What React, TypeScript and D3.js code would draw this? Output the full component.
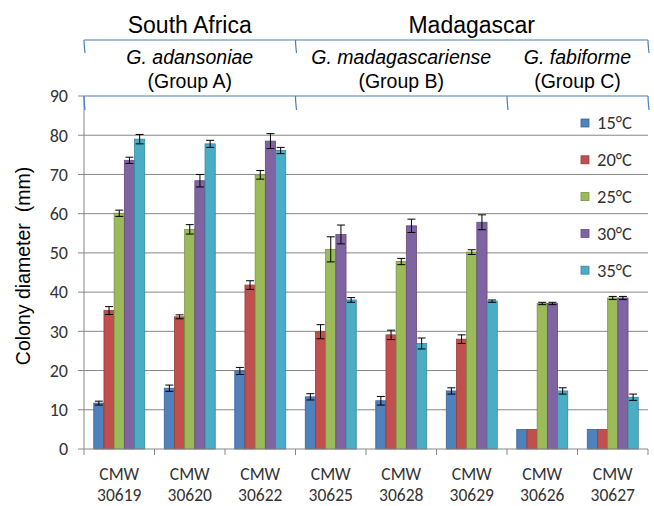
import React from "react";
import * as d3 from "d3";

const strains = ["30619", "30620", "30622", "30625", "30628", "30629", "30626", "30627"];
const series = ["15°C", "20°C", "25°C", "30°C", "35°C"];
const colors = ["#4f81bd", "#c0504d", "#9bbb59", "#8064a2", "#4bacc6"];
const strokeColors = ["#3a6497", "#983d3a", "#789344", "#624b7d", "#36879c"];

const v15 = [11.7, 15.5, 19.9, 13.3, 12.3, 14.8, 5, 5];
const v20 = [35.3, 33.7, 41.8, 29.9, 29.1, 28.0, 5, 5];
const v25 = [60.1, 56.0, 69.9, 50.9, 47.8, 50.2, 37.1, 38.5];
const v30 = [73.6, 68.4, 78.5, 54.7, 56.9, 57.8, 37.1, 38.5];
const v35 = [79.0, 77.8, 76.1, 38.0, 26.9, 37.7, 14.8, 13.2];

const e15 = [0.5, 0.8, 0.9, 0.8, 1.1, 0.8, 0, 0];
const e20 = [1.0, 0.5, 1.1, 1.8, 1.2, 1.1, 0, 0];
const e25 = [0.8, 1.2, 1.1, 3.2, 0.8, 0.6, 0.3, 0.4];
const e30 = [0.8, 1.6, 1.9, 2.4, 1.7, 1.9, 0.3, 0.4];
const e35 = [1.2, 0.9, 0.8, 0.6, 1.4, 0.3, 0.8, 0.8];

const yTicks = [0, 10, 20, 30, 40, 50, 60, 70, 80, 90];

const regions = [
  { label: "South Africa", from: 0, to: 3 },
  { label: "Madagascar", from: 3, to: 8 },
];
const groups = [
  { name: "G. adansoniae", sub: "(Group A)", from: 0, to: 3 },
  { name: "G. madagascariense", sub: "(Group B)", from: 3, to: 6 },
  { name: "G. fabiforme", sub: "(Group C)", from: 6, to: 8 },
];

const values = [v15, v20, v25, v30, v35];
const errors = [e15, e20, e25, e30, e35];

const W = 654;
const H = 506;
const left = 84;
const right = 648;
const top = 96;
const bottom = 449;

const tickFont = "Carlito, Calibri, Lato, 'Liberation Sans', sans-serif";
const headFont = "'Liberation Sans', Arial, sans-serif";

export default function App() {
  const y = d3.scaleLinear().domain([0, 90]).range([bottom, top]);
  const xEdge = d3.scaleLinear().domain([0, strains.length]).range([left, right]);
  const x0 = d3
    .scaleBand<string>()
    .domain(strains)
    .range([left, right])
    .paddingInner(0.277)
    .paddingOuter(0.1385);
  const x1 = d3.scaleBand<string>().domain(series).range([0, x0.bandwidth()]);
  const blue = "#4a7ebb";

  const brace = (xa: number, xb: number, yy: number, drop: number, hooks: number[]) => {
    let d = `M${xa},${yy}L${xb},${yy}`;
    hooks.forEach((hx) => {
      d += `M${hx},${yy}C${hx},${yy + drop * 0.4} ${hx + 0.5},${yy + drop * 0.6} ${hx + 1},${yy + drop}`;
    });
    return d;
  };

  return (
    <svg
      width={W}
      height={H}
      style={{ position: "absolute", left: 0, top: 0, background: "#fff" }}
    >
      {/* gridlines */}
      {yTicks.slice(1, -1).map((t) => (
        <line key={t} x1={left} x2={right} y1={y(t)} y2={y(t)} stroke="#868686" strokeWidth={1} />
      ))}
      {/* y axis */}
      <line x1={left} x2={left} y1={top} y2={bottom} stroke="#868686" />
      {yTicks.map((t) => (
        <g key={t}>
          <line x1={left - 6} x2={left} y1={y(t)} y2={y(t)} stroke="#868686" />
          <text
            x={68}
            y={y(t)}
            dy="0.35em"
            textAnchor="end"
            fontFamily={tickFont}
            fontSize={18}
            fill="#333"
          >
            {t}
          </text>
        </g>
      ))}
      <text
        transform={`translate(30,${266}) rotate(-90)`}
        textAnchor="middle"
        fontFamily={headFont}
        fontSize={19.5}
        fill="#000"
        style={{ whiteSpace: "pre" }}
      >
        {"Colony diameter  (mm)"}
      </text>
      {/* bars */}
      {strains.map((s, i) => (
        <g key={s} transform={`translate(${x0(s)},0)`}>
          {series.map((ser, j) => {
            const v = values[j][i];
            const e = errors[j][i];
            const bx = x1(ser) as number;
            const bw = x1.bandwidth();
            const cx = bx + bw / 2;
            return (
              <g key={ser}>
                <rect
                  x={bx}
                  y={y(v)}
                  width={bw}
                  height={y(0) - y(v)}
                  fill={colors[j]}
                  stroke={strokeColors[j]}
                  strokeWidth={0.8}
                />
                {e > 0 && (
                  <g stroke="#000" strokeWidth={1}>
                    <line x1={cx} x2={cx} y1={y(v - e)} y2={y(v + e)} />
                    <line x1={cx - 4} x2={cx + 4} y1={y(v + e)} y2={y(v + e)} />
                    <line x1={cx - 4} x2={cx + 4} y1={y(v - e)} y2={y(v - e)} />
                  </g>
                )}
              </g>
            );
          })}
        </g>
      ))}
      {/* x axis */}
      <line x1={left} x2={right} y1={bottom} y2={bottom} stroke="#868686" />
      {d3.range(strains.length + 1).map((k) => (
        <line
          key={k}
          x1={xEdge(k)}
          x2={xEdge(k)}
          y1={bottom}
          y2={bottom + 6}
          stroke="#868686"
        />
      ))}
      {strains.map((s) => {
        const cx = (x0(s) as number) + x0.bandwidth() / 2;
        return (
          <g key={s}>
            <text x={cx} y={480} textAnchor="middle" fontFamily={tickFont} fontSize={17.5} fill="#333">
              CMW
            </text>
            <text x={cx} y={501} textAnchor="middle" fontFamily={tickFont} fontSize={17.5} fill="#333">
              {s}
            </text>
          </g>
        );
      })}
      {/* legend */}
      {series.map((ser, j) => (
        <g key={ser} transform={`translate(581,${123 + j * 36.8})`}>
          <rect x={0} y={-4} width={8} height={8} fill={colors[j]} stroke={strokeColors[j]} strokeWidth={0.8} />
          <text x={16} y={0} dy="0.35em" fontFamily={tickFont} fontSize={18.5} fill="#333">
            {ser}
          </text>
        </g>
      ))}
      {/* top headers */}
      {regions.map((r) => (
        <text
          key={r.label}
          x={(xEdge(r.from) + xEdge(r.to)) / 2}
          y={33}
          textAnchor="middle"
          fontFamily={headFont}
          fontSize={23}
          fill="#000"
        >
          {r.label}
        </text>
      ))}
      <path
        d={brace(left, right, 40, 13, [left, xEdge(3), right])}
        fill="none"
        stroke={blue}
        strokeWidth={1.2}
      />
      {groups.map((g) => (
        <g key={g.name}>
          <text
            x={(xEdge(g.from) + xEdge(g.to)) / 2}
            y={64}
            textAnchor="middle"
            fontFamily={headFont}
            fontSize={19.5}
            fontStyle="italic"
            fill="#000"
          >
            {g.name}
          </text>
          <text
            x={(xEdge(g.from) + xEdge(g.to)) / 2}
            y={88}
            textAnchor="middle"
            fontFamily={headFont}
            fontSize={19.5}
            fill="#000"
          >
            {g.sub}
          </text>
        </g>
      ))}
      <path
        d={brace(left, right, 96, 14, [left, xEdge(3), xEdge(6), right])}
        fill="none"
        stroke={blue}
        strokeWidth={1.2}
      />
    </svg>
  );
}
